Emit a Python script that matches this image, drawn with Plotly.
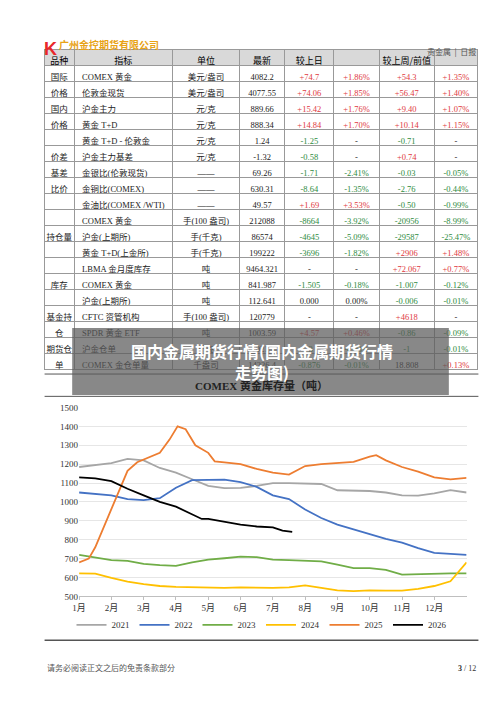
import plotly.graph_objects as go

# ---- table data ----
group = ["国际", "价格", "国内", "价格", "", "价差", "基差", "比价", "", "", "持仓量", "", "", "库存", "",
         "基金持", "仓", "期货仓", "单"]
item = ["COMEX 黄金", "伦敦金现货", "沪金主力", "黄金 T+D", "黄金 T+D - 伦敦金", "沪金主力基差",
        "金银比(伦敦现货)", "金铜比(COMEX)", "金油比(COMEX\u00a0/WTI)", "COMEX 黄金", "沪金(上期所)",
        "黄金 T+D(上金所)", "LBMA 金月度库存", "COMEX 黄金", "沪金(上期所)", "CFTC 资管机构",
        "SPDR 黄金 ETF", "沪金仓单", "COMEX 金仓单量"]
unit = ["美元/盎司", "美元/盎司", "元/克", "元/克", "元/克", "元/克", "——", "——", "——",
        "手(100\u00a0盎司)", "手(千克)", "手(千克)", "吨", "吨", "吨", "手(100\u00a0盎司)", "吨", "千克", "千盎司"]
latest = ["4082.2", "4077.55", "889.66", "888.34", "1.24", "-1.32", "69.26", "630.31", "49.57",
          "212088", "86574", "199222", "9464.321", "841.987", "112.641", "120779", "1003.59",
          "10215", "14226.4"]
day_chg = ["+74.7", "+74.06", "+15.42", "+14.84", "-1.25", "-0.58", "-1.71", "-8.64", "+1.69",
           "-8664", "-4645", "-3696", "-", "-1.505", "0.000", "-", "+4.57", "-3", "-0.876"]
day_pct = ["+1.86%", "+1.85%", "+1.76%", "+1.70%", "-", "-", "-2.41%", "-1.35%", "+3.53%",
           "-3.92%", "-5.09%", "-1.82%", "-", "-0.18%", "0.00%", "-", "+0.46%", "-0.03%", "-0.01%"]
wk_chg = ["+54.3", "+56.47", "+9.40", "+10.14", "-0.71", "+0.74", "-0.03", "-2.76", "-0.50",
          "-20956", "-29587", "+2906", "+72.067", "-1.007", "-0.006", "+4618", "-0.86", "-1", "18.808"]
wk_pct = ["+1.35%", "+1.40%", "+1.07%", "+1.15%", "-", "-", "-0.05%", "-0.44%", "-0.99%",
          "-8.99%", "-25.47%", "+1.48%", "+0.77%", "-0.12%", "-0.01%", "-", "-0.09%", "-0.01%", "+0.13%"]

# ---- chart data (COMEX gold stocks, tonnes; x = month position) ----
x_2021 = [1, 1.5, 2, 2.5, 3, 3.5, 4, 4.5, 5, 5.5, 6, 6.5, 7, 7.5, 8, 8.5, 9, 9.5, 10, 10.5, 11, 11.5, 12, 12.5, 13]
y_2021 = [1185, 1195, 1205, 1228, 1220, 1180, 1155, 1120, 1085, 1073, 1075, 1085, 1100, 1100, 1098, 1095,
          1062, 1060, 1058, 1050, 1035, 1033, 1045, 1062, 1050]
x_2022 = x_2021
y_2022 = [1050, 1042, 1035, 1015, 1010, 1020, 1075, 1115, 1118, 1118, 1105, 1080, 1035, 1015, 960, 915,
          880, 855, 830, 805, 785, 755, 730, 725, 720]
x_2023 = x_2021
y_2023 = [720, 708, 692, 688, 672, 665, 662, 680, 695, 702, 710, 708, 695, 692, 690, 685, 668, 650, 650,
          640, 615, 618, 618, 622, 622]
x_2024 = [1, 1.5, 2, 2.5, 3, 3.5, 4, 4.5, 5, 5.5, 6, 6.5, 7, 7.5, 8, 8.5, 9, 9.5, 10, 10.5, 11, 11.5, 12,
          12.5, 12.8, 13]
y_2024 = [622, 620, 598, 578, 565, 555, 550, 548, 548, 545, 548, 547, 545, 548, 558, 545, 532, 528, 532,
          530, 530, 540, 555, 580, 640, 680]
x_2025 = [1, 1.3, 1.5, 1.8, 2, 2.2, 2.5, 2.8, 3, 3.5, 3.8, 4.05, 4.3, 4.6, 5, 5.2, 5.5, 6, 6.5, 7, 7.5, 8,
          8.5, 9, 9.5, 10, 10.2, 10.5, 11, 11.5, 12, 12.5, 13]
y_2025 = [680, 700, 760, 880, 960, 1050, 1165, 1210, 1225, 1260, 1330, 1400, 1385, 1300, 1260, 1215, 1210,
          1200, 1175, 1155, 1145, 1190, 1200, 1205, 1212, 1240, 1248, 1220, 1185, 1160, 1130, 1120, 1128]
x_2026 = [1, 1.5, 2, 2.5, 3, 3.5, 4, 4.5, 4.8, 5, 5.5, 6, 6.5, 7, 7.3, 7.6]
y_2026 = [1130, 1125, 1110, 1070, 1035, 1000, 975, 935, 910, 910, 895, 880, 870, 865, 848, 842]
months = [f"{m}月" for m in range(1, 13)]

RED, GREEN, BLACK = "#e0393e", "#2e8b3e", "#222222"


def col_colors(vals):
    return [RED if v.startswith("+") else GREEN if v.startswith("-") and v != "-" else BLACK for v in vals]


cells = [group, item, unit, latest, day_chg, day_pct, wk_chg, wk_pct]
colors = [[BLACK] * len(item)] * 4 + [col_colors(c) for c in cells[4:]]
aligns = ["center", "left", "center", "center", "center", "center", "center", "center"]

fig = go.Figure()
fig.add_trace(go.Table(
    domain=dict(x=[0.06, 0.94], y=[0.484, 0.948]),
    columnwidth=[30, 100, 68, 46, 50, 46, 56, 44],
    header=dict(values=["品种", "指标", "单位", "最新", "较上日", "", "较上周/前值", ""],
                fill_color="#d9d9d9", line_color="#999999", height=16,
                font=dict(size=9, color="black", family="Noto Sans CJK SC"), align="center"),
    cells=dict(values=cells, fill_color="white", line_color="#999999", height=16,
               font=dict(size=8.5, color=colors, family="Liberation Serif, Noto Sans CJK SC"),
               align=aligns),
))

series = [("2021", x_2021, y_2021, "#a6a6a6"), ("2022", x_2022, y_2022, "#4472c4"),
          ("2023", x_2023, y_2023, "#70ad47"), ("2024", x_2024, y_2024, "#ffc000"),
          ("2025", x_2025, y_2025, "#ed7d31"), ("2026", x_2026, y_2026, "#000000")]
for name, xs, ys, c in series:
    fig.add_trace(go.Scatter(x=xs, y=ys, name=name, mode="lines", line=dict(color=c, width=1.8)))

fig.update_layout(
    width=500, height=707, margin=dict(l=0, r=0, t=0, b=0),
    paper_bgcolor="white", plot_bgcolor="white",
    font=dict(family="Liberation Serif, Noto Sans CJK SC", size=9, color="#333333"),
    xaxis=dict(domain=[0.13, 0.916], range=[1, 13], tickvals=list(range(1, 13)), ticktext=months,
               showgrid=False, showline=True, linecolor="#bfbfbf", ticks="outside", ticklen=3,
               tickcolor="#bfbfbf"),
    yaxis=dict(domain=[0.163, 0.434], range=[500, 1500], dtick=100, gridcolor="#e6e6e6",
               zeroline=False),
    legend=dict(orientation="h", x=0.5, xanchor="center", y=0.122, yanchor="middle",
                font=dict(size=9), bgcolor="rgba(0,0,0,0)"),
    shapes=[
        dict(type="line", xref="paper", yref="paper", x0=0.06, x1=0.94, y0=0.482, y1=0.482,
             line=dict(color="#555555", width=1)),
        dict(type="line", xref="paper", yref="paper", x0=0.06, x1=0.94, y0=0.45, y1=0.45,
             line=dict(color="#555555", width=1)),
        dict(type="line", xref="paper", yref="paper", x0=0.06, x1=0.94, y0=0.1, y1=0.1,
             line=dict(color="#555555", width=1.5)),
        dict(type="rect", xref="paper", yref="paper", x0=0.116, x1=0.88, y0=0.452, y1=0.548,
             fillcolor="rgba(90,90,90,0.72)", line=dict(width=0)),
    ],
    annotations=[
        dict(text="<b>K</b>", x=0.055, y=0.965, xref="paper", yref="paper", showarrow=False,
             font=dict(size=18, color="#e8272a", family="Liberation Sans")),
        dict(text="<b>广州金控期货有限公司</b>", x=0.085, y=0.968, xref="paper", yref="paper",
             xanchor="left", showarrow=False, font=dict(size=10, color="#e8a317", family="Noto Sans CJK SC")),
        dict(text="贵金属  |  日报", x=0.94, y=0.955, xref="paper", yref="paper", xanchor="right",
             showarrow=False, font=dict(size=8, color="#555555", family="Noto Sans CJK SC")),
        dict(text="<b>COMEX 黄金库存量（吨）</b>", x=0.5, y=0.466, xref="paper", yref="paper",
             showarrow=False, font=dict(size=11, color="#222222")),
        dict(text="<b>国内金属期货行情(国内金属期货行情<br>走势图)</b>", x=0.5, y=0.5, xref="paper",
             yref="paper", showarrow=False, font=dict(size=16, color="white", family="Noto Sans CJK SC")),
        dict(text="请务必阅读正文之后的免责条款部分", x=0.06, y=0.05, xref="paper", yref="paper",
             xanchor="left", showarrow=False, font=dict(size=8, color="#555555", family="Noto Sans CJK SC")),
        dict(text="<b>3</b> / 12", x=0.94, y=0.05, xref="paper", yref="paper", xanchor="right",
             showarrow=False, font=dict(size=8, color="#333333")),
    ],
)
fig.write_html("out.html")
